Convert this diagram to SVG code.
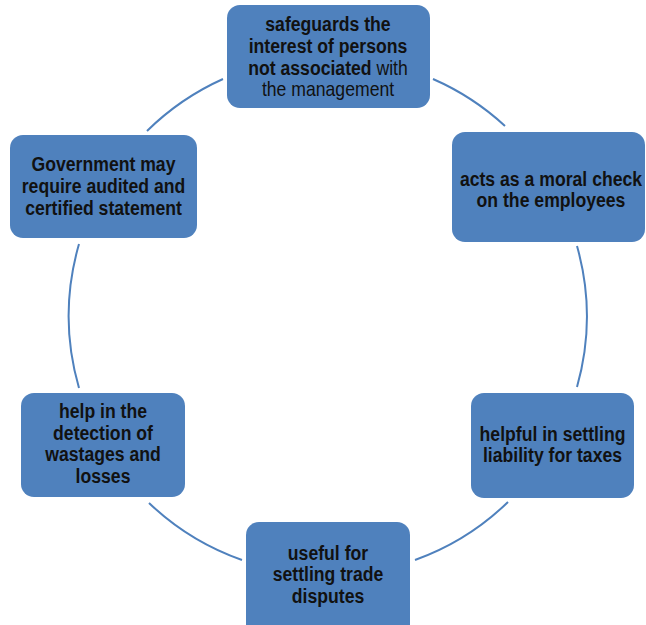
<svg xmlns="http://www.w3.org/2000/svg" width="646" height="625" viewBox="0 0 646 625">
<style>
.box{fill:#4F81BD;}
.lbl{font-family:"Liberation Sans",Arial,sans-serif;font-size:20.5px;font-weight:bold;fill:#111;text-anchor:middle;}
.n{font-weight:normal;}
.arc{fill:none;stroke:#4F81BD;stroke-width:2;}
</style>
<rect width="646" height="625" fill="#fff"/>
<g id="connectors">
<path class="arc" d="M147,131 A259,259 0 0 1 223,79"/>
<path class="arc" d="M433,79 A259,259 0 0 1 505,126"/>
<path class="arc" d="M577,246 A259,259 0 0 1 577,387"/>
<path class="arc" d="M508,502 A259,259 0 0 1 415,560"/>
<path class="arc" d="M242,560 A259,259 0 0 1 149,503"/>
<path class="arc" d="M79,388 A259,259 0 0 1 79,244"/>
</g>
<g id="node-top">
<rect class="box" x="227" y="5" width="203" height="103" rx="13"/>
<text class="lbl" transform="translate(328 0) scale(0.86 1)"><tspan x="0" y="31.5">safeguards the</tspan><tspan x="0" y="53">interest of persons</tspan><tspan x="0" y="75">not associated <tspan class="n">with</tspan></tspan><tspan class="n" x="0" y="96.5">the management</tspan></text>
</g>
<g id="node-right">
<rect class="box" x="452" y="132" width="193" height="110" rx="13"/>
<text class="lbl" transform="translate(551 0) scale(0.86 1)"><tspan x="0" y="186.5">acts as a moral check</tspan><tspan x="0" y="207">on the employees</tspan></text>
</g>
<g id="node-right-bottom">
<rect class="box" x="471" y="393" width="163" height="105" rx="13"/>
<text class="lbl" transform="translate(552.5 0) scale(0.86 1)"><tspan x="0" y="441.5">helpful in settling</tspan><tspan x="0" y="462.5">liability for taxes</tspan></text>
</g>
<g id="node-bottom">
<rect class="box" x="246" y="522" width="164" height="115" rx="13"/>
<text class="lbl" transform="translate(328 0) scale(0.86 1)"><tspan x="0" y="560">useful for</tspan><tspan x="0" y="581.5">settling trade</tspan><tspan x="0" y="603">disputes</tspan></text>
</g>
<g id="node-left-bottom">
<rect class="box" x="21" y="393" width="164" height="104" rx="13"/>
<text class="lbl" transform="translate(103 0) scale(0.86 1)"><tspan x="0" y="418.5">help in the</tspan><tspan x="0" y="440">detection of</tspan><tspan x="0" y="461.5">wastages and</tspan><tspan x="0" y="483">losses</tspan></text>
</g>
<g id="node-left-top">
<rect class="box" x="10" y="135" width="187" height="103" rx="13"/>
<text class="lbl" transform="translate(103.5 0) scale(0.86 1)"><tspan x="0" y="171.5">Government may</tspan><tspan x="0" y="193.5">require audited and</tspan><tspan x="0" y="215">certified statement</tspan></text>
</g>
</svg>
